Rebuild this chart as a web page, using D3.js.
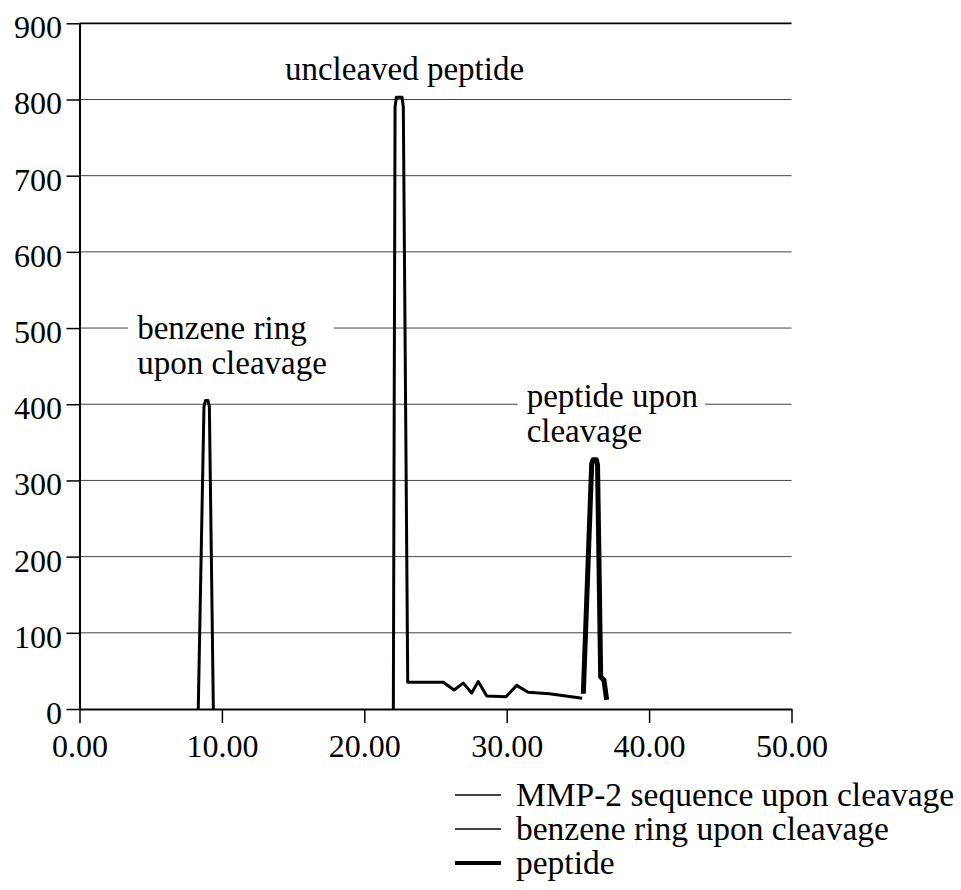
<!DOCTYPE html>
<html>
<head>
<meta charset="utf-8">
<script src="https://cdn.jsdelivr.net/npm/d3@7/dist/d3.min.js"></script>
<style>
  html, body { margin: 0; padding: 0; background: #fff; }
</style>
</head>
<body>
<svg id="chart" width="961" height="890"></svg>
<script>
// ---- data ----
const xTicks = [0, 10, 20, 30, 40, 50];
const yTicks = [0, 100, 200, 300, 400, 500, 600, 700, 800, 900];

const seriesNames = ["MMP-2 sequence upon cleavage", "benzene ring upon cleavage", "peptide"];

// uncleaved peptide peak + low tail
const mmp2X = [22.04, 22.16, 22.25, 22.65, 22.74, 23.05, 25.55, 26.30, 26.95, 27.54, 28.0, 28.6, 29.95, 30.7, 31.5, 33.0, 35.3];
const mmp2Y = [0, 790, 803, 803, 790, 35, 35, 25, 34, 21, 36, 17, 16, 31, 22, 20, 14];

// benzene ring peak
const benzX = [8.34, 8.74, 8.85, 9.02, 9.12, 9.40];
const benzY = [0, 397, 405, 405, 397, 0];

// peptide upon cleavage peak
const pepX = [35.38, 35.97, 36.05, 36.30, 36.38, 36.60, 36.83, 37.02];
const pepY = [20, 322, 327, 327, 320, 42, 38, 12];

const annotations = [
  { lines: ["uncleaved peptide"], x: 14.43, y: 826, box: false },
  { lines: ["benzene ring", "upon cleavage"], x: 4.05, y: 485, box: true },
  { lines: ["peptide upon", "cleavage"], x: 31.4, y: 397, box: true }
];

// ---- drawing ----
const FONT = '"Liberation Serif", Tinos, "Times New Roman", Times, "Noto Serif", "DejaVu Serif", serif';
const svg = d3.select("#chart");
const x = d3.scaleLinear().domain([0, 50]).range([79.5, 791.5]);
const y = d3.scaleLinear().domain([0, 900]).range([709, 23.3]);

// gridlines
svg.append("g").selectAll("line")
  .data(yTicks.filter(d => d > 0))
  .join("line")
  .attr("x1", x(0)).attr("x2", x(50))
  .attr("y1", d => y(d)).attr("y2", d => y(d))
  .attr("stroke", d => d === 900 ? "#000" : "#444")
  .attr("stroke-width", d => d === 900 ? 1.8 : 1);

// annotation labels with white backing
const annG = svg.append("g");
annotations.forEach(a => {
  const g = annG.append("g");
  const t = g.append("text")
    .attr("font-family", FONT)
    .attr("fill", "#000")
    .attr("font-size", 33);
  a.lines.forEach((l, i) => {
    t.append("tspan").attr("x", x(a.x)).attr("y", y(a.y) + i * 35).text(l);
  });
  if (a.box) {
    const bb = t.node().getBBox();
    g.insert("rect", "text")
      .attr("x", bb.x - 9).attr("y", bb.y - 4)
      .attr("width", bb.width + 16).attr("height", bb.height + 6)
      .attr("fill", "#fff");
  }
});

// axes
const yAxis = svg.append("g")
  .attr("transform", `translate(${x(0)},0)`)
  .call(d3.axisLeft(y).tickValues(yTicks).tickSize(13).tickSizeOuter(0).tickPadding(4.5).tickFormat(d => d));
yAxis.attr("font-family", FONT).attr("font-size", 32);
yAxis.select(".domain").attr("stroke", "#000").attr("stroke-width", 2);
yAxis.selectAll(".tick line").attr("stroke", "#000").attr("stroke-width", 1.5);
yAxis.selectAll(".tick text").attr("dy", "0.45em").attr("fill", "#000");

const xAxis = svg.append("g")
  .attr("transform", `translate(0,${y(0)})`)
  .call(d3.axisBottom(x).tickValues(xTicks).tickSize(14).tickSizeOuter(0).tickFormat(d3.format(".2f")));
xAxis.attr("font-family", FONT).attr("font-size", 32);
xAxis.select(".domain").attr("stroke", "#000").attr("stroke-width", 2);
xAxis.selectAll(".tick line").attr("stroke", "#000").attr("stroke-width", 1.5);
xAxis.selectAll(".tick text").attr("y", 48).attr("dy", 0).attr("fill", "#000");

// series lines
const line = d3.line().x(d => x(d[0])).y(d => y(d[1]));
const series = [
  { xs: benzX, ys: benzY, w: 3 },
  { xs: mmp2X, ys: mmp2Y, w: 3 },
  { xs: pepX, ys: pepY, w: 5 }
];
svg.append("g").selectAll("path")
  .data(series)
  .join("path")
  .attr("d", s => line(s.xs.map((v, i) => [v, s.ys[i]])))
  .attr("fill", "none")
  .attr("stroke", "#000")
  .attr("stroke-width", s => s.w)
  .attr("stroke-linejoin", "round")
  .attr("stroke-linecap", "butt");

// legend
const legendWidths = [1.5, 1.5, 4];
const leg = svg.append("g").attr("transform", "translate(455,806)")
  .attr("font-family", FONT).attr("font-size", 33.5);
seriesNames.forEach((n, i) => {
  const row = leg.append("g").attr("transform", `translate(0,${i * 34})`);
  row.append("line").attr("x1", 0).attr("x2", 46).attr("y1", -11).attr("y2", -11)
    .attr("stroke", "#000").attr("stroke-width", legendWidths[i]);
  row.append("text").attr("x", 61).attr("y", 0).attr("fill", "#000").text(n);
});
</script>
</body>
</html>
